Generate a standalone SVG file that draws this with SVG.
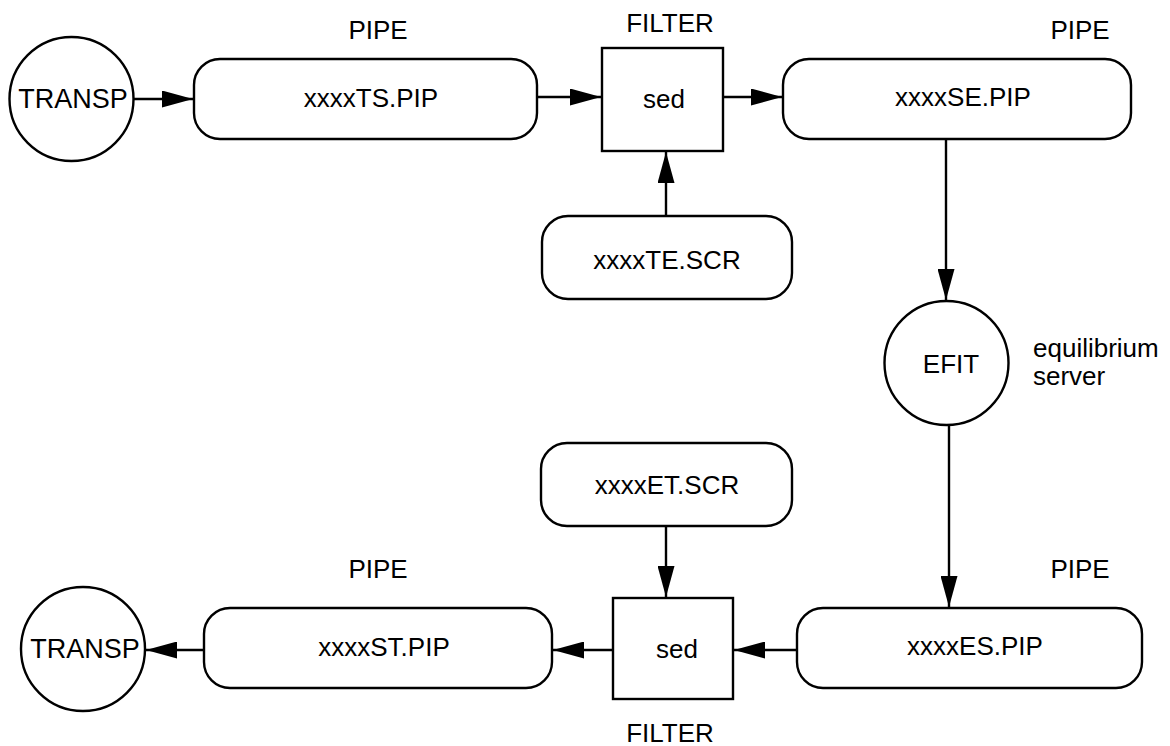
<svg xmlns="http://www.w3.org/2000/svg" width="1170" height="746" viewBox="0 0 1170 746">
<defs>
<style>
.shape{fill:#fff;stroke:#000;stroke-width:2.4}
.lbl{font-family:"Liberation Sans",Arial,Helvetica,sans-serif;font-size:26px;fill:#000;text-anchor:middle}
.side{font-family:"Liberation Sans",Arial,Helvetica,sans-serif;font-size:26px;fill:#000}
.conn{stroke:#000;stroke-width:2.4;fill:none;marker-end:url(#ah)}
</style>
<marker id="ah" viewBox="0 0 31 17" refX="31" refY="8.5" markerWidth="31" markerHeight="17" markerUnits="userSpaceOnUse" orient="auto">
<path d="M0,0 L31,8.5 L0,17 Z" fill="#000"/>
</marker>
</defs>
<rect width="1170" height="746" fill="#fff"/>

<g id="transp-top">
<circle class="shape" cx="71.5" cy="99" r="62"/>
<text class="lbl" x="73" y="108" style="font-size:27px">TRANSP</text>
</g>
<g id="pipe-ts">
<rect class="shape" x="194" y="59" width="343" height="80" rx="26"/>
<text class="lbl" x="371" y="107">xxxxTS.PIP</text>
<text class="lbl" x="378" y="39">PIPE</text>
</g>
<g id="filter-top">
<rect class="shape" x="602" y="48" width="121" height="103"/>
<text class="lbl" x="664" y="108">sed</text>
<text class="lbl" x="670" y="32">FILTER</text>
</g>
<g id="script-te">
<rect class="shape" x="542" y="216" width="250" height="83" rx="26"/>
<text class="lbl" x="667" y="269">xxxxTE.SCR</text>
</g>
<g id="pipe-se">
<rect class="shape" x="783" y="59" width="348" height="80" rx="26"/>
<text class="lbl" x="963" y="106">xxxxSE.PIP</text>
<text class="lbl" x="1080" y="39">PIPE</text>
</g>
<g id="efit">
<circle class="shape" cx="946.5" cy="363" r="62"/>
<text class="lbl" x="951" y="373">EFIT</text>
<text class="side" x="1033" y="357">equilibrium</text>
<text class="side" x="1033" y="385">server</text>
</g>
<g id="pipe-es">
<rect class="shape" x="797" y="608" width="345" height="80" rx="26"/>
<text class="lbl" x="975" y="655">xxxxES.PIP</text>
<text class="lbl" x="1080" y="578">PIPE</text>
</g>
<g id="script-et">
<rect class="shape" x="541" y="443" width="251" height="83" rx="26"/>
<text class="lbl" x="667" y="494">xxxxET.SCR</text>
</g>
<g id="filter-bottom">
<rect class="shape" x="613" y="598" width="120" height="101"/>
<text class="lbl" x="677" y="658">sed</text>
<text class="lbl" x="670" y="742">FILTER</text>
</g>
<g id="pipe-st">
<rect class="shape" x="204" y="608" width="348" height="80" rx="26"/>
<text class="lbl" x="384" y="656">xxxxST.PIP</text>
<text class="lbl" x="378" y="578">PIPE</text>
</g>
<g id="transp-bottom">
<circle class="shape" cx="83" cy="649" r="62"/>
<text class="lbl" x="85" y="658" style="font-size:27px">TRANSP</text>
</g>

<g id="connectors">
<line class="conn" x1="134" y1="99" x2="193" y2="99"/>
<line class="conn" x1="538" y1="97" x2="601" y2="97"/>
<line class="conn" x1="724" y1="97" x2="782" y2="97"/>
<line class="conn" x1="666" y1="215" x2="666" y2="152"/>
<line class="conn" x1="946" y1="140" x2="946" y2="300"/>
<line class="conn" x1="949" y1="426" x2="949" y2="607"/>
<line class="conn" x1="796" y1="650" x2="734" y2="650"/>
<line class="conn" x1="666" y1="527" x2="666" y2="597"/>
<line class="conn" x1="614" y1="650" x2="553" y2="650"/>
<line class="conn" x1="203" y1="650" x2="146" y2="650"/>
</g>
</svg>
